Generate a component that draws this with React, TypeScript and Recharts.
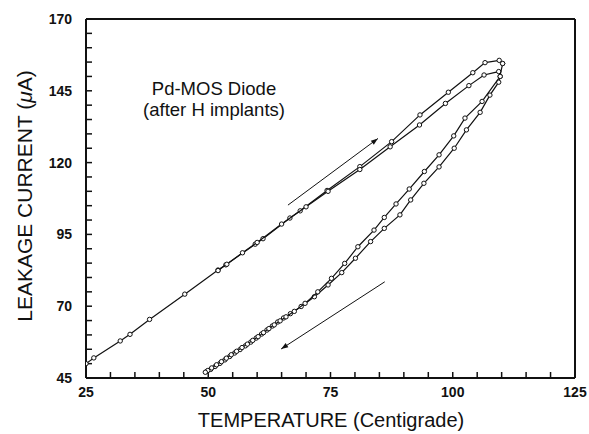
import {
  ComposedChart,
  Scatter,
  XAxis,
  YAxis,
  ReferenceLine,
} from "recharts";

// temperature (C) / leakage current (uA) pairs
const heatingA = [
  [25, 50.0], [26.6, 52.0], [32, 57.9], [34, 60.2], [38, 65.4], [45.2, 74.2],
  [52, 82.6], [53.6, 84.4], [59.6, 91.6], [61.2, 93.5], [66.7, 100.7], [68.8, 103.2],
  [74.3, 110.3], [81, 118.6], [87.5, 127.3], [93.3, 136.6], [99.1, 144.5],
  [104.1, 151.3], [106.6, 154.8], [109.5, 155.6], [110.2, 154.5],
];

const coolingA = [
  [110.2, 154.5], [109.4, 148], [107.6, 143.5], [105.6, 137.5], [102.8, 131.4], [100.3, 125],
  [97.2, 118.5], [94.1, 112.8], [91.4, 107], [89.2, 101.8], [86, 97.1], [83.2, 92.5],
  [80.1, 86.7], [77.3, 81.7], [74.5, 77.4], [71.7, 73.3], [69, 69.9], [66.8, 67.4],
  [65.4, 65.9], [64.2, 64.5], [63.1, 63.1], [62, 61.7], [60.9, 60.3], [59.8, 58.9],
  [58.7, 57.5], [57.6, 56.2], [56.5, 54.9], [55.4, 53.7], [54.4, 52.5], [53.4, 51.3],
  [52.4, 50.1], [51.4, 49], [50.5, 48], [49.7, 47.3],
];

const heatingB = [
  [52, 82.4], [53.8, 84.6], [57, 88.6], [60, 92.2], [65, 98.6], [70, 104.6],
  [74.5, 110], [81, 117.6], [87.2, 125.5], [93.2, 133.1], [98.5, 140.6],
  [103.3, 146.8], [106.4, 150.5], [109.4, 151.7], [109.7, 150],
];

const coolingB = [
  [109.7, 150], [106, 141.3], [102.5, 135.5], [100.2, 129.3], [97.2, 122.7],
  [94.2, 116.9], [91.1, 110.8], [88.4, 105.6], [86, 100.9], [83.9, 96.5], [80.6, 90.7],
  [77.9, 84.9], [75.2, 79.7], [72.4, 75], [69.8, 71], [67.6, 68.2], [65.9, 66.3],
  [64.7, 64.9], [63.5, 63.5], [62.4, 62.2], [61.3, 60.8], [60.2, 59.4], [59.1, 58.1],
  [58, 56.8], [56.9, 55.6], [55.8, 54.3], [54.7, 53.1], [53.7, 51.9], [52.7, 50.7],
  [51.7, 49.6], [50.7, 48.5], [49.9, 47.6], [49.4, 47],
];

const upArrow = [[66.3, 105.2], [84.7, 128.4]];
const downArrow = [[86.1, 78.5], [64.9, 55.1]];

const xMajor = [25, 50, 75, 100, 125];
const yMajor = [45, 70, 95, 120, 145, 170];
const xTicks = [25, 30, 35, 40, 45, 50, 55, 60, 65, 70, 75, 80, 85, 90, 95, 100, 105, 110, 115, 120, 125];
const yTicks = [45, 50, 55, 60, 65, 70, 75, 80, 85, 90, 95, 100, 105, 110, 115, 120, 125, 130, 135, 140, 145, 150, 155, 160, 165, 170];

const toPoints = (arr: number[][]) => arr.map(([t, i]) => ({ t, i }));

const INK = "#111";
const FONT = "'Liberation Sans', Arial, sans-serif";
const tickStroke = { stroke: INK, strokeWidth: 1.5 };

// labels only on the major ticks; tick lines point inward (negative tickSize)
const XLabel = (props: any) => {
  const { x, y, payload } = props;
  if (!xMajor.includes(payload.value)) return <g />;
  return (
    <text x={x} y={y + 13} textAnchor="middle" fontSize={14} fontWeight="bold" fill={INK} fontFamily={FONT}>
      {payload.value}
    </text>
  );
};

const YLabel = (props: any) => {
  const { x, y, payload } = props;
  if (!yMajor.includes(payload.value)) return <g />;
  return (
    <text x={x} y={y + 5} textAnchor="end" fontSize={14} fontWeight="bold" fill={INK} fontFamily={FONT}>
      {payload.value}
    </text>
  );
};

const Marker = (props: any) => (
  <circle cx={props.cx} cy={props.cy} r={2.2} fill="#fff" stroke={INK} strokeWidth={1} />
);

const Arrow = (props: any) => {
  const { x1, y1, x2, y2 } = props;
  const a = Math.atan2(y2 - y1, x2 - x1);
  const L = 7;
  const W = 2.5;
  const bx = x2 - L * Math.cos(a);
  const by = y2 - L * Math.sin(a);
  const px = -Math.sin(a) * W;
  const py = Math.cos(a) * W;
  return (
    <g>
      <line x1={x1} y1={y1} x2={x2} y2={y2} stroke={INK} strokeWidth={1} />
      <polygon points={`${x2},${y2} ${bx + px},${by + py} ${bx - px},${by - py}`} fill={INK} />
    </g>
  );
};

const lineStyle = { stroke: INK, strokeWidth: 1.2 };

export default function App() {
  return (
    <div style={{ position: "absolute", left: 0, top: 0, width: 589, height: 434, background: "#fff" }}>
      <ComposedChart
        width={589}
        height={434}
        margin={{ top: 19, right: 14, bottom: 0, left: 0 }}
      >
        <XAxis
          type="number"
          dataKey="t"
          domain={[25, 125]}
          ticks={xTicks}
          interval={0}
          height={56}
          tickSize={-6}
          tickMargin={12}
          tickLine={tickStroke}
          axisLine={{ stroke: INK, strokeWidth: 2 }}
          tick={<XLabel />}
          allowDataOverflow
        />
        <YAxis
          type="number"
          dataKey="i"
          domain={[45, 170]}
          ticks={yTicks}
          interval={0}
          width={86}
          tickSize={-6}
          tickMargin={20}
          tickLine={tickStroke}
          axisLine={{ stroke: INK, strokeWidth: 2 }}
          tick={<YLabel />}
          allowDataOverflow
        />
        <ReferenceLine y={170} stroke={INK} strokeWidth={2} ifOverflow="visible" />
        <ReferenceLine x={125} stroke={INK} strokeWidth={2} ifOverflow="visible" />
        <ReferenceLine
          segment={[{ x: upArrow[0][0], y: upArrow[0][1] }, { x: upArrow[1][0], y: upArrow[1][1] }]}
          shape={(p: any) => <Arrow {...p} />}
        />
        <ReferenceLine
          segment={[{ x: downArrow[0][0], y: downArrow[0][1] }, { x: downArrow[1][0], y: downArrow[1][1] }]}
          shape={(p: any) => <Arrow {...p} />}
        />
        <Scatter data={toPoints(heatingA)} line={lineStyle} lineType="joint" shape={<Marker />} isAnimationActive={false} />
        <Scatter data={toPoints(heatingB)} line={lineStyle} lineType="joint" shape={<Marker />} isAnimationActive={false} />
        <Scatter data={toPoints(coolingA)} line={lineStyle} lineType="joint" shape={<Marker />} isAnimationActive={false} />
        <Scatter data={toPoints(coolingB)} line={lineStyle} lineType="joint" shape={<Marker />} isAnimationActive={false} />
      </ComposedChart>

      <div
        style={{
          position: "absolute",
          left: 214,
          top: 78,
          transform: "translateX(-50%)",
          textAlign: "center",
          fontFamily: FONT,
          fontSize: 18.5,
          lineHeight: "21px",
          color: INK,
          whiteSpace: "nowrap",
        }}
      >
        Pd-MOS Diode
        <br />
        (after H implants)
      </div>

      <div
        style={{
          position: "absolute",
          left: 331,
          top: 420,
          transform: "translate(-50%, -50%)",
          fontFamily: FONT,
          fontSize: 20,
          color: INK,
          whiteSpace: "nowrap",
        }}
      >
        TEMPERATURE (Centigrade)
      </div>

      <div
        style={{
          position: "absolute",
          left: 25,
          top: 196,
          transform: "translate(-50%, -50%) rotate(-90deg)",
          fontFamily: FONT,
          fontSize: 21,
          color: INK,
          whiteSpace: "nowrap",
        }}
      >
        LEAKAGE CURRENT (<span style={{ fontStyle: "italic" }}>μ</span>A)
      </div>
    </div>
  );
}
